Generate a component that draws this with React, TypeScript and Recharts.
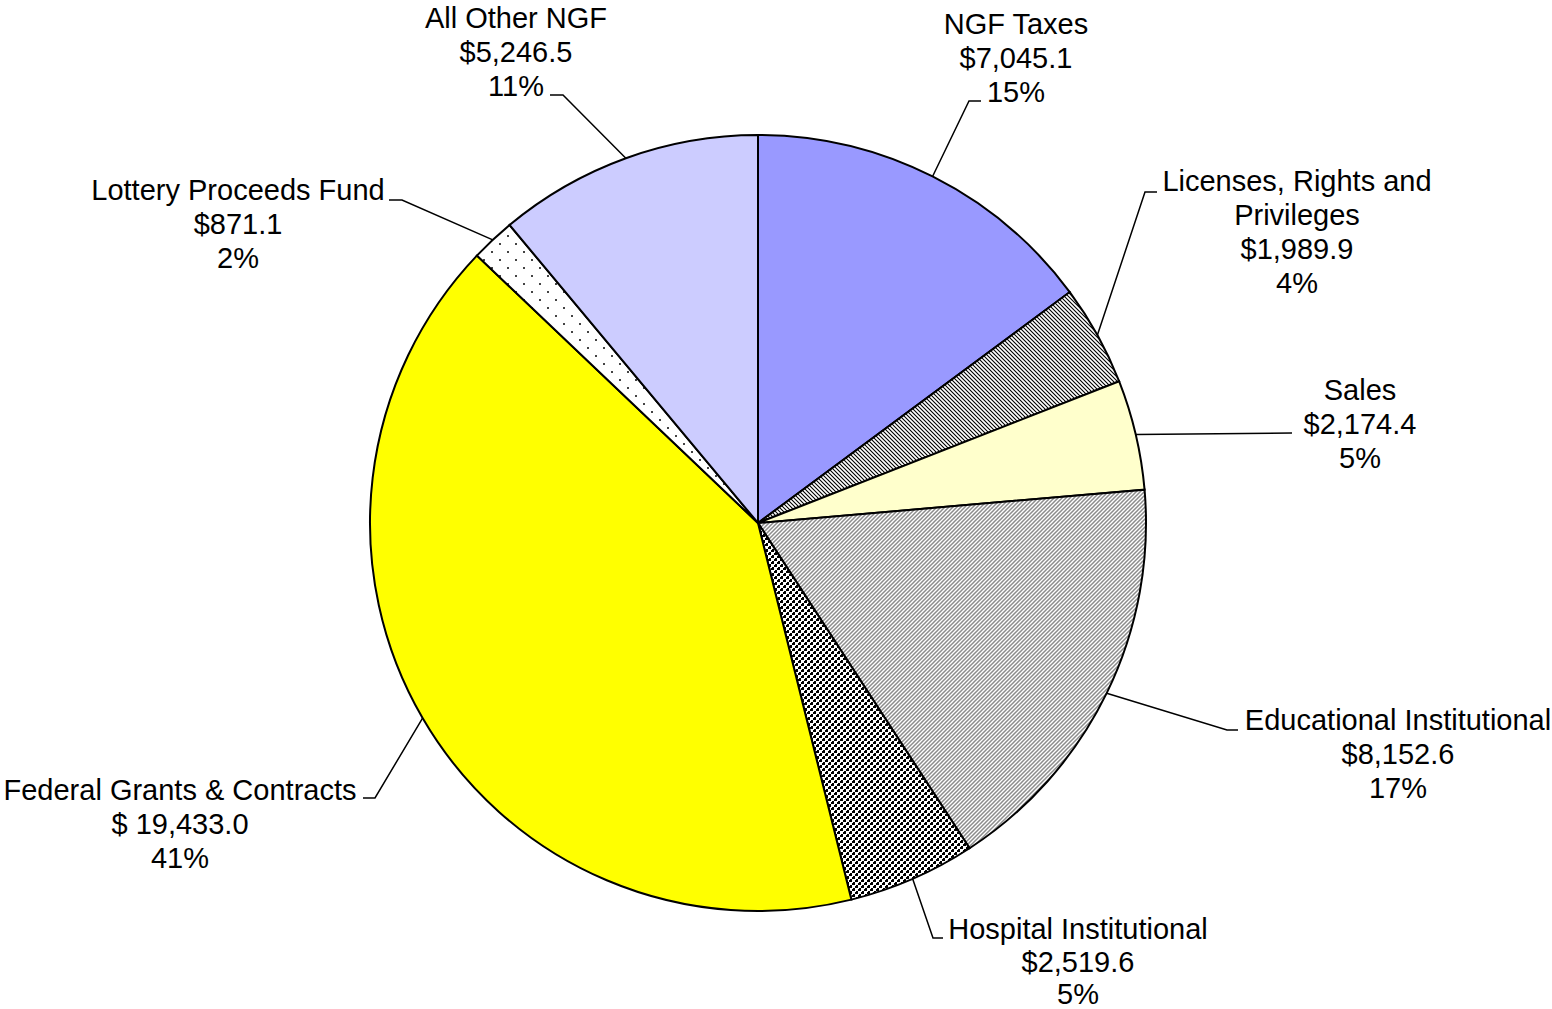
import React from 'react';
import { PieChart, Pie, Cell } from 'recharts';

const categories = [
  'NGF Taxes',
  'Licenses, Rights and|Privileges',
  'Sales',
  'Educational Institutional',
  'Hospital Institutional',
  'Federal Grants & Contracts',
  'Lottery Proceeds Fund',
  'All Other NGF',
];
const values = [7045.1, 1989.9, 2174.4, 8152.6, 2519.6, 19433.0, 871.1, 5246.5];
const currencyPrefixes = ['$', '$', '$', '$', '$', '$ ', '$', '$'];
const fills = [
  '#9999FF',
  'url(#patLicenses)',
  '#FFFFCC',
  'url(#patEducational)',
  'url(#patHospital)',
  '#FFFF00',
  'url(#patLottery)',
  '#CCCCFF',
];

// Label layout: elbow point of the leader line, end of the short horizontal segment,
// and centre-x / first-line centre-y of the text block.
const labelLayout = [
  { ex: 969, ey: 101, lx: 981, ly: 101, tx: 1016, ty: 24, lh: 34 },
  { ex: 1145, ey: 192, lx: 1157, ly: 192, tx: 1297, ty: 181, lh: 34 },
  { ex: 1292, ey: 433, lx: 1292, ly: 433, tx: 1360, ty: 390, lh: 34 },
  { ex: 1227, ey: 730, lx: 1238, ly: 730, tx: 1398, ty: 720, lh: 34 },
  { ex: 933, ey: 938, lx: 943, ly: 938, tx: 1078, ty: 929, lh: 32.5 },
  { ex: 375, ey: 798, lx: 363, ly: 798, tx: 180, ty: 790, lh: 34 },
  { ex: 402, ey: 200, lx: 389, ly: 200, tx: 238, ty: 190, lh: 34 },
  { ex: 563, ey: 95, lx: 550, ly: 95, tx: 516, ty: 18, lh: 34 },
];

const data = categories.map((name, i) => ({ name, value: values[i] }));

const RADIAN = Math.PI / 180;
const FONT = '"Liberation Sans", Arial, sans-serif';

const renderLabel = (props: any) => {
  const { cx, cy, midAngle, outerRadius, percent, index, value } = props;
  const L = labelLayout[index];
  const sx = cx + outerRadius * Math.cos(-midAngle * RADIAN);
  const sy = cy + outerRadius * Math.sin(-midAngle * RADIAN);
  const nameLines = categories[index].split('|');
  const valText =
    currencyPrefixes[index] +
    Number(value).toLocaleString('en-US', { minimumFractionDigits: 1, maximumFractionDigits: 1 });
  const pct = Math.round(percent * 100) + '%';
  const lines = [...nameLines, valText, pct];
  return (
    <g key={`lbl-${index}`}>
      <path
        d={`M${sx},${sy} L${L.ex},${L.ey} L${L.lx},${L.ly}`}
        stroke="#000"
        strokeWidth={1.5}
        fill="none"
      />
      {lines.map((t, k) => (
        <text
          key={k}
          x={L.tx}
          y={L.ty + k * L.lh + 10}
          textAnchor="middle"
          fontFamily={FONT}
          fontSize={29}
          fill="#000"
        >
          {t}
        </text>
      ))}
    </g>
  );
};

export default function App() {
  return (
    <div style={{ position: 'absolute', left: 0, top: 0, width: 1552, height: 1009, background: '#fff' }}>
      <PieChart width={1552} height={1009} margin={{ top: 0, right: 0, bottom: 0, left: 0 }}>
        <defs>
          <pattern id="patLicenses" width="4" height="4" patternUnits="userSpaceOnUse">
            <rect width="4" height="4" fill="#fff" />
            <path d="M-1,-1 L5,5 M-1,3 L1,5 M3,-1 L5,1" stroke="#000" strokeWidth="1.1" />
          </pattern>
          <pattern id="patEducational" width="4" height="4" patternUnits="userSpaceOnUse">
            <rect width="4" height="4" fill="#fff" />
            <path d="M-1,5 L5,-1 M-1,1 L1,-1 M3,5 L5,3" stroke="#8c8c8c" strokeWidth="1.5" />
          </pattern>
          <pattern id="patHospital" width="6" height="6" patternUnits="userSpaceOnUse">
            <rect width="6" height="6" fill="#fff" />
            <rect x="0" y="0" width="3" height="3" fill="#000" />
            <rect x="3" y="3" width="3" height="3" fill="#000" />
            <rect x="0" y="0" width="1" height="1" fill="#fff" />
            <rect x="3" y="3" width="1" height="1" fill="#fff" />
          </pattern>
          <pattern id="patLottery" width="16" height="16" patternUnits="userSpaceOnUse">
            <rect width="16" height="16" fill="#fff" />
            <rect x="3" y="3" width="2" height="2" fill="#444" />
            <rect x="11" y="11" width="2" height="2" fill="#444" />
          </pattern>
        </defs>
        <Pie
          data={data}
          dataKey="value"
          nameKey="name"
          cx={758}
          cy={523}
          outerRadius={388}
          startAngle={90}
          endAngle={-270}
          stroke="#000"
          strokeWidth={2}
          label={renderLabel}
          labelLine={false}
          isAnimationActive={false}
        >
          {data.map((d, i) => (
            <Cell key={d.name} fill={fills[i]} stroke="#000" strokeWidth={2} />
          ))}
        </Pie>
      </PieChart>
    </div>
  );
}
